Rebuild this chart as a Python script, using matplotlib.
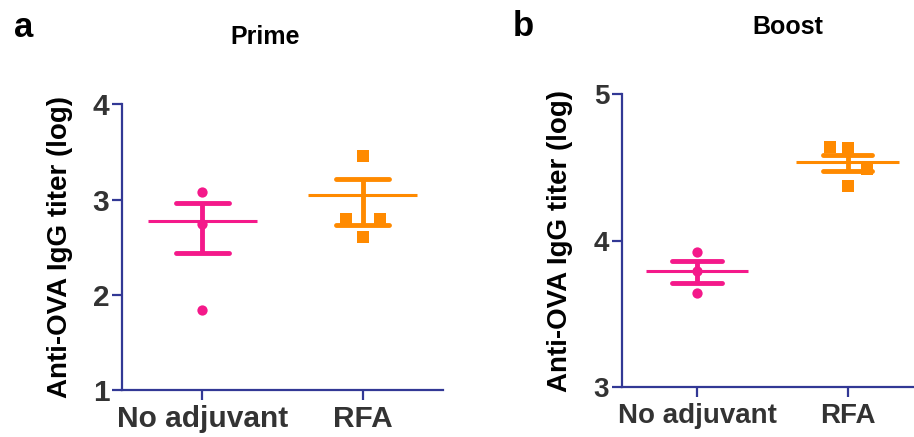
import matplotlib
matplotlib.use("Agg")
import matplotlib.pyplot as plt
import numpy as np

plt.rcParams['font.family'] = ['Liberation Sans', 'DejaVu Sans']

groups = ["No adjuvant", "RFA"]
colors = ["#F4198A", "#FF8A00"]
markers = ["o", "s"]

# Prime panel
prime_points = [[3.08, 2.74, 1.84], [3.46, 2.80, 2.80, 2.61]]
prime_offsets = [[0, 0, 0], [0, -0.106, 0.106, 0]]
prime_mean = [2.78, 3.05]
prime_upper = [2.97, 3.22]
prime_lower = [2.44, 2.73]
prime_ticks = [1, 2, 3, 4]

# Boost panel
boost_points = [[3.92, 3.79, 3.645], [4.64, 4.63, 4.49, 4.37]]
boost_offsets = [[0, 0, 0], [-0.12, 0.0, 0.13, 0.0]]
boost_mean = [3.79, 4.534]
boost_upper = [3.86, 4.586]
boost_lower = [3.71, 4.477]
boost_ticks = [3, 4, 5]

spine_color = "#323895"
tick_text = "#333333"

fig = plt.figure(figsize=(9.14, 4.37), dpi=100)
axA = fig.add_axes([0.1335, 0.1076, 0.3512, 0.6533])
axB = fig.add_axes([0.6802, 0.1137, 0.3295, 0.6712])


def draw(ax, points, offsets, mean, upper, lower, ticks, tick_fs):
    for i in range(len(groups)):
        c = colors[i]
        ax.hlines(mean[i], i - 0.34, i + 0.34, color=c, lw=2.2, zorder=3)
        ax.vlines(i, lower[i], upper[i], color=c, lw=3.5, zorder=3)
        for v in (upper[i], lower[i]):
            ax.hlines(v, i - 0.165, i + 0.165, color=c, lw=3.5, zorder=3,
                      capstyle='round')
        xs = np.array(offsets[i]) + i
        ax.plot(xs, points[i], linestyle='none', marker=markers[i],
                color=c, markersize=7.4 if markers[i] == 'o' else 8.2,
                markeredgewidth=0, zorder=4)
    ax.set_xlim(-0.5, 1.5)
    ax.set_ylim(ticks[0], ticks[-1])
    ax.set_yticks(ticks)
    ax.set_yticklabels([str(t) for t in ticks])
    ax.set_xticks(range(len(groups)))
    ax.set_xticklabels(groups)
    for s in ['top', 'right']:
        ax.spines[s].set_visible(False)
    for s in ['left', 'bottom']:
        ax.spines[s].set_color(spine_color)
        ax.spines[s].set_linewidth(1.6)
    ax.tick_params(axis='both', colors=spine_color, width=1.6, length=7,
                   labelcolor=tick_text, labelsize=tick_fs)
    ax.tick_params(axis='y', pad=2)
    ax.tick_params(axis='x', pad=4)
    for lab in ax.get_xticklabels() + ax.get_yticklabels():
        lab.set_fontweight('bold')
    ax.set_ylabel("Anti-OVA IgG titer (log)", fontsize=20, fontweight='bold',
                  color='black')
    for sp in ax.spines.values():
        sp.set_clip_on(False)


draw(axA, prime_points, prime_offsets, prime_mean, prime_upper, prime_lower,
     prime_ticks, 21.5)
draw(axB, boost_points, boost_offsets, boost_mean, boost_upper, boost_lower,
     boost_ticks, 20)

axA.yaxis.set_label_coords(-0.153, 0.5)
axB.yaxis.set_label_coords(-0.162, 0.5)

fig.text(265.5 / 914, 1 - 43.5 / 437, "Prime", ha='center', va='baseline',
         fontsize=18, fontweight='bold')
fig.text(788 / 914, 1 - 33.5 / 437, "Boost", ha='center', va='baseline',
         fontsize=18, fontweight='bold')
fig.text(14 / 914, 1 - 37 / 437, "a", ha='left', va='baseline',
         fontsize=25, fontweight='bold')
fig.text(513 / 914, 1 - 36.5 / 437, "b", ha='left', va='baseline',
         fontsize=25, fontweight='bold')

fig.savefig("out.png", dpi=100)
